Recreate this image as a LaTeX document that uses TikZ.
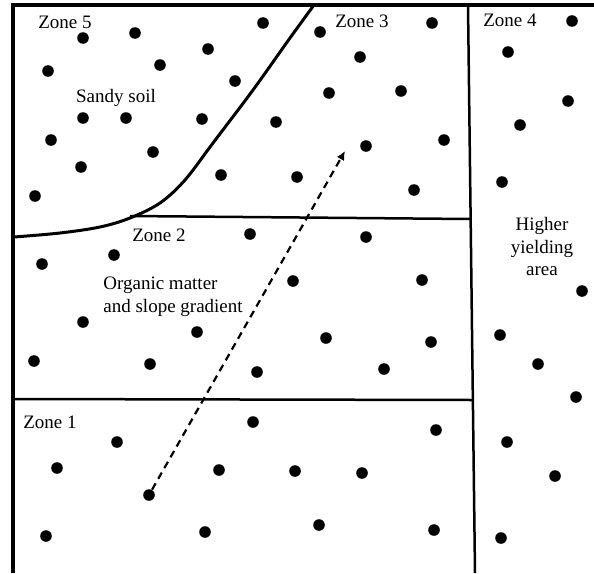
\documentclass[tikz,border=0pt]{standalone}
\usepackage{fontspec}
\setmainfont{Liberation Serif}
\usepackage{tikz}
\usetikzlibrary{arrows.meta}

\begin{document}
\begin{tikzpicture}[x=0.5pt, y=-0.5pt,
    every node/.style={font=\fontsize{9.5}{11.3}\selectfont, inner sep=0pt},
    dot/.style={circle, fill=black, minimum size=5.8pt},
    divider/.style={line width=1.25pt},
    zone/.style={anchor=base}]

\useasboundingbox (0,0) rectangle (594,573);

% Field border (top and left)
\draw[line width=1.8pt] (13,573) -- (13,5) -- (594,5);

% Zone boundaries
\draw[divider] (468,5) -- (475,573);
\draw[divider] (13,399) -- (472,400);
\draw[divider] (130,216) -- (470,219);
\draw[line width=1.5pt] plot[smooth, tension=0.55] coordinates
    {(14,237) (60,233) (100,227) (130,218) (160,203) (185,180)
     (213,143) (253,90) (290,38) (314,5)};

% Sample points
\foreach \p [count=\i] in {
    (263,23),(83,38),(135,33),(208,49),(48,71),(160,65),(235,81),(83,118),
    (126,118),(202,119),(276,122),(51,140),(153,152),(81,167),(221,175),
    (297,177),(35,196),
    (320,32),(432,23),(360,57),(329,93),(401,91),(366,146),(444,140),(414,190),
    (572,21),(508,52),(568,101),(520,125),(502,182),(582,291),(500,335),
    (538,364),(576,397),(507,442),(555,476),(501,538),
    (250,234),(366,237),(42,264),(114,255),(293,281),(422,280),(83,322),
    (197,332),(326,338),(431,342),(34,361),(150,364),(257,372),(384,369),
    (253,422),(436,430),(117,442),(57,468),(219,470),(295,471),(362,473),
    (46,536),(205,532),(319,525),(434,530)}
  \node[dot] (p\i) at \p {};
\node[dot] (seed) at (149,495) {};

% Zone labels
\node[zone] (z5) at (65,28) {Zone 5};
\node[zone] (z3) at (362,27) {Zone 3};
\node[zone] (z4) at (510,26) {Zone 4};
\node[zone] (z2) at (159,241) {Zone 2};
\node[zone] (z1) at (50,428) {Zone 1};

\node[zone] (sandy) at (116,102) {Sandy soil};
\node[anchor=north west, align=left] (om) at (103,277) {Organic matter\\and slope gradient};
\node[anchor=north, align=center] (high) at (542,217) {Higher\\yielding\\area};

% Gradient direction
\coordinate (omtip) at (345,151);
\draw[line width=1.1pt, dash pattern=on 3.6pt off 2.6pt,
      -{Latex[length=4.5pt,width=4.2pt]}] (seed) -- (omtip);

\end{tikzpicture}
\end{document}
